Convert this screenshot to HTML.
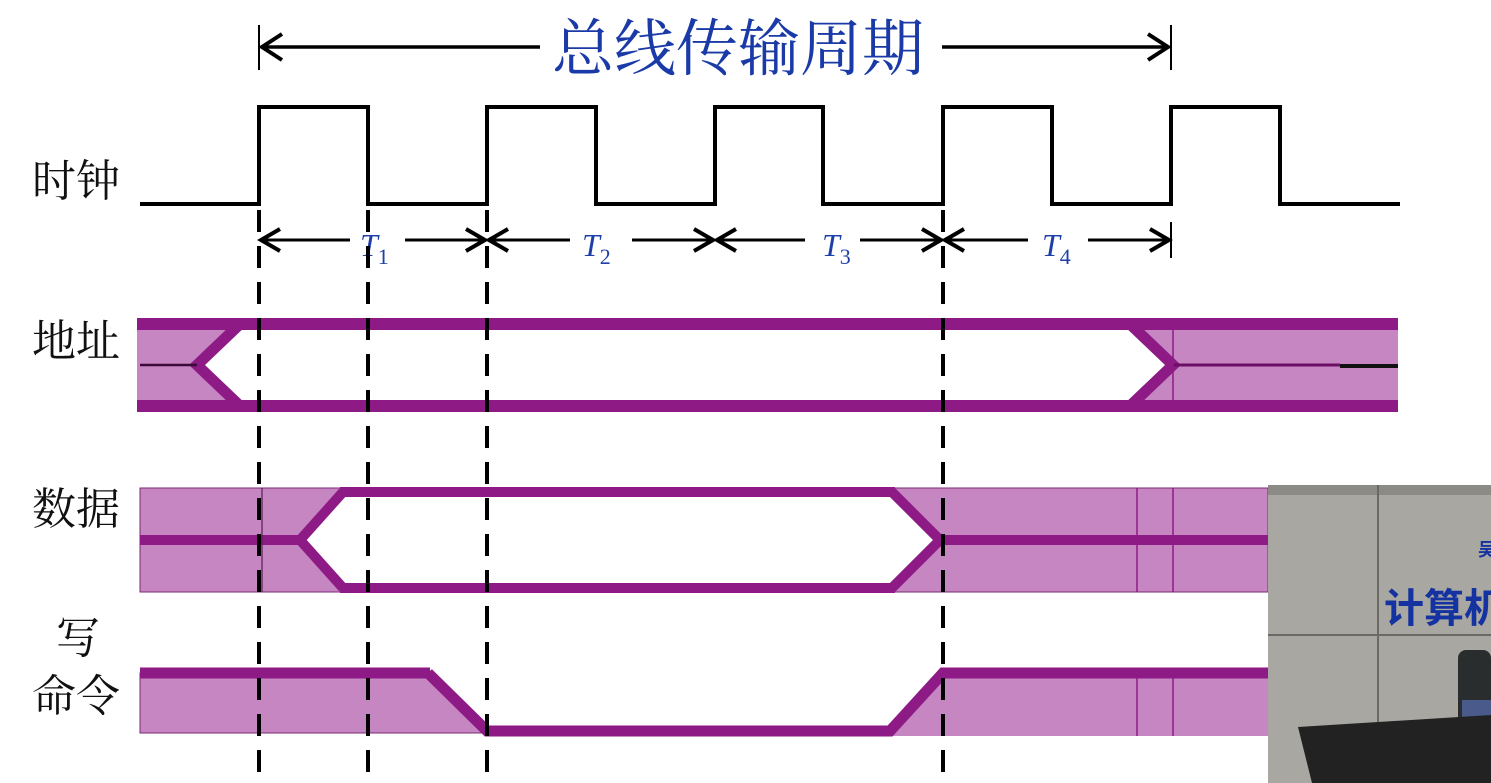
<!DOCTYPE html>
<html><head><meta charset="utf-8"><style>
html,body{margin:0;padding:0;background:#fff;}
svg{display:block;}
.cn{font-family:"Liberation Serif","Noto Serif CJK SC",serif;font-size:44px;fill:#111;}
.t{font-family:"Liberation Serif",serif;font-style:italic;fill:#1f3fa8;}
</style></head><body>
<svg width="1491" height="783" viewBox="0 0 1491 783" xmlns="http://www.w3.org/2000/svg">
<rect width="1491" height="783" fill="#fff"/>
<!-- top arrow -->
<g stroke="#000" stroke-width="3.5" fill="none">
<line x1="259" y1="25" x2="259" y2="70" stroke-width="2"/>
<line x1="1171" y1="25" x2="1171" y2="70" stroke-width="2"/>
<line x1="261" y1="47" x2="540" y2="47"/>
<line x1="942" y1="47" x2="1169" y2="47"/>
<polyline points="282,34 262,47 282,60" stroke-width="4"/>
<polyline points="1148,34 1168,47 1148,60" stroke-width="4"/>
</g>
<text x="738" y="70" text-anchor="middle" font-family="'Liberation Serif','Noto Serif CJK SC',serif" font-size="62" fill="#1a3aa8">总线传输周期</text>
<!-- clock -->
<polyline fill="none" stroke="#000" stroke-width="4" points="140,204 259,204 259,107 368,107 368,204 487,204 487,107 596,107 596,204 715,204 715,107 823,107 823,204 943,204 943,107 1052,107 1052,204 1171,204 1171,107 1280,107 1280,204 1400,204"/>
<!-- T arrows -->
<g stroke="#000" stroke-width="3" fill="none">
<line x1="1171" y1="222" x2="1171" y2="258" stroke-width="2"/>
<line x1="261" y1="240" x2="350" y2="240"/><line x1="405" y1="240" x2="485" y2="240"/>
<line x1="489" y1="240" x2="570" y2="240"/><line x1="632" y1="240" x2="713" y2="240"/>
<line x1="717" y1="240" x2="805" y2="240"/><line x1="860" y1="240" x2="941" y2="240"/>
<line x1="945" y1="240" x2="1028" y2="240"/><line x1="1088" y1="240" x2="1169" y2="240"/>
<g stroke-width="4">
<polyline points="280,229 261,240 280,251"/><polyline points="466,229 485,240 466,251"/>
<polyline points="508,229 489,240 508,251"/><polyline points="694,229 713,240 694,251"/>
<polyline points="736,229 717,240 736,251"/><polyline points="922,229 941,240 922,251"/>
<polyline points="964,229 945,240 964,251"/><polyline points="1150,229 1169,240 1150,251"/>
</g>
</g>
<g class="t" font-size="32">
<text x="360" y="256">T<tspan font-size="22" dy="8" font-style="normal">1</tspan></text>
<text x="582" y="256">T<tspan font-size="22" dy="8" font-style="normal">2</tspan></text>
<text x="822" y="256">T<tspan font-size="22" dy="8" font-style="normal">3</tspan></text>
<text x="1042" y="256">T<tspan font-size="22" dy="8" font-style="normal">4</tspan></text>
</g>
<!-- labels -->
<text class="cn" x="32" y="196">时钟</text>
<text class="cn" x="32" y="356">地址</text>
<text class="cn" x="32" y="524">数据</text>
<text class="cn" x="56" y="653">写</text>
<text class="cn" x="32" y="711">命令</text>
<!-- address -->
<g>
<polygon points="137,324 240,324 197,365 240,406 137,406" fill="#c586c2"/>
<polygon points="1398,324 1130,324 1173,365 1130,406 1398,406" fill="#c586c2"/>
<rect x="137" y="318" width="1261" height="12" fill="#8e1a86"/>
<rect x="137" y="400" width="1261" height="12" fill="#8e1a86"/>
<polyline points="240,324 197,365 240,406" fill="none" stroke="#8e1a86" stroke-width="11"/>
<polyline points="1130,324 1173,365 1130,406" fill="none" stroke="#8e1a86" stroke-width="11"/>
<line x1="140" y1="365" x2="197" y2="365" stroke="#3a0a38" stroke-width="2.5"/>
<line x1="1173" y1="365" x2="1340" y2="365" stroke="#6a0f64" stroke-width="3"/>
<line x1="1340" y1="366" x2="1398" y2="366" stroke="#111" stroke-width="4"/>
<line x1="1173" y1="330" x2="1173" y2="400" stroke="#8e1a86" stroke-width="1.5"/>
</g>
<!-- data -->
<g>
<polygon points="140,488 345,488 300,540 345,592 140,592" fill="#c586c2" stroke="#7a2a74" stroke-width="1"/>
<polygon points="1268,488 890,488 943,540 890,592 1268,592" fill="#c586c2" stroke="#7a2a74" stroke-width="1"/>
<line x1="340" y1="492" x2="895" y2="492" stroke="#8e1a86" stroke-width="10"/>
<line x1="340" y1="588" x2="895" y2="588" stroke="#8e1a86" stroke-width="10"/>
<polyline points="343,492 300,540 343,588" fill="none" stroke="#8e1a86" stroke-width="10"/>
<polyline points="892,492 940,540 892,588" fill="none" stroke="#8e1a86" stroke-width="10"/>
<line x1="140" y1="540" x2="300" y2="540" stroke="#8e1a86" stroke-width="10"/>
<line x1="940" y1="540" x2="1268" y2="540" stroke="#8e1a86" stroke-width="10"/>
<line x1="262" y1="488" x2="262" y2="592" stroke="#5a1a55" stroke-width="1.2"/>
<line x1="1137" y1="488" x2="1137" y2="592" stroke="#8e1a86" stroke-width="1.5"/>
<line x1="1173" y1="488" x2="1173" y2="592" stroke="#8e1a86" stroke-width="1.5"/>
</g>
<!-- write -->
<g>
<polygon points="140,673 430,673 487,733 140,733" fill="#c586c2" stroke="#7a2a74" stroke-width="1"/>
<polygon points="943,673 1268,673 1268,736 890,736" fill="#c586c2"/>
<line x1="140" y1="673" x2="430" y2="673" stroke="#8e1a86" stroke-width="11"/>
<polyline points="428,673 487,731 890,731 943,673 1268,673" fill="none" stroke="#8e1a86" stroke-width="11"/>
<line x1="1137" y1="678" x2="1137" y2="736" stroke="#8e1a86" stroke-width="1.5"/>
<line x1="1173" y1="678" x2="1173" y2="736" stroke="#8e1a86" stroke-width="1.5"/>
</g>
<!-- dashed verticals -->
<g stroke="#000" stroke-width="4" stroke-dasharray="22,14">
<line x1="259" y1="210" x2="259" y2="783"/>
<line x1="368" y1="210" x2="368" y2="783"/>
<line x1="487" y1="210" x2="487" y2="783"/>
<line x1="943" y1="210" x2="943" y2="783"/>
</g>
<!-- photo inset -->
<g>
<rect x="1268" y="485" width="223" height="298" fill="#a9a7a1"/>
<rect x="1268" y="485" width="223" height="10" fill="#8c8a85"/>
<line x1="1378" y1="485" x2="1378" y2="783" stroke="#6b6965" stroke-width="2"/>
<line x1="1268" y1="635" x2="1491" y2="635" stroke="#6b6965" stroke-width="2"/>
<text x="1384" y="622" font-family="'Noto Sans CJK SC',sans-serif" font-weight="bold" font-size="40" fill="#1533a0">计算机</text>
<text x="1478" y="556" font-family="'Noto Sans CJK SC',sans-serif" font-weight="bold" font-size="18" fill="#1533a0">吴</text>
<rect x="1458" y="650" width="33" height="80" rx="8" fill="#2a2d2d"/>
<rect x="1462" y="700" width="29" height="30" fill="#4a5a8a"/>
<polygon points="1298,727 1491,715 1491,783 1312,783" fill="#222"/>
</g>
</svg>
</body></html>
